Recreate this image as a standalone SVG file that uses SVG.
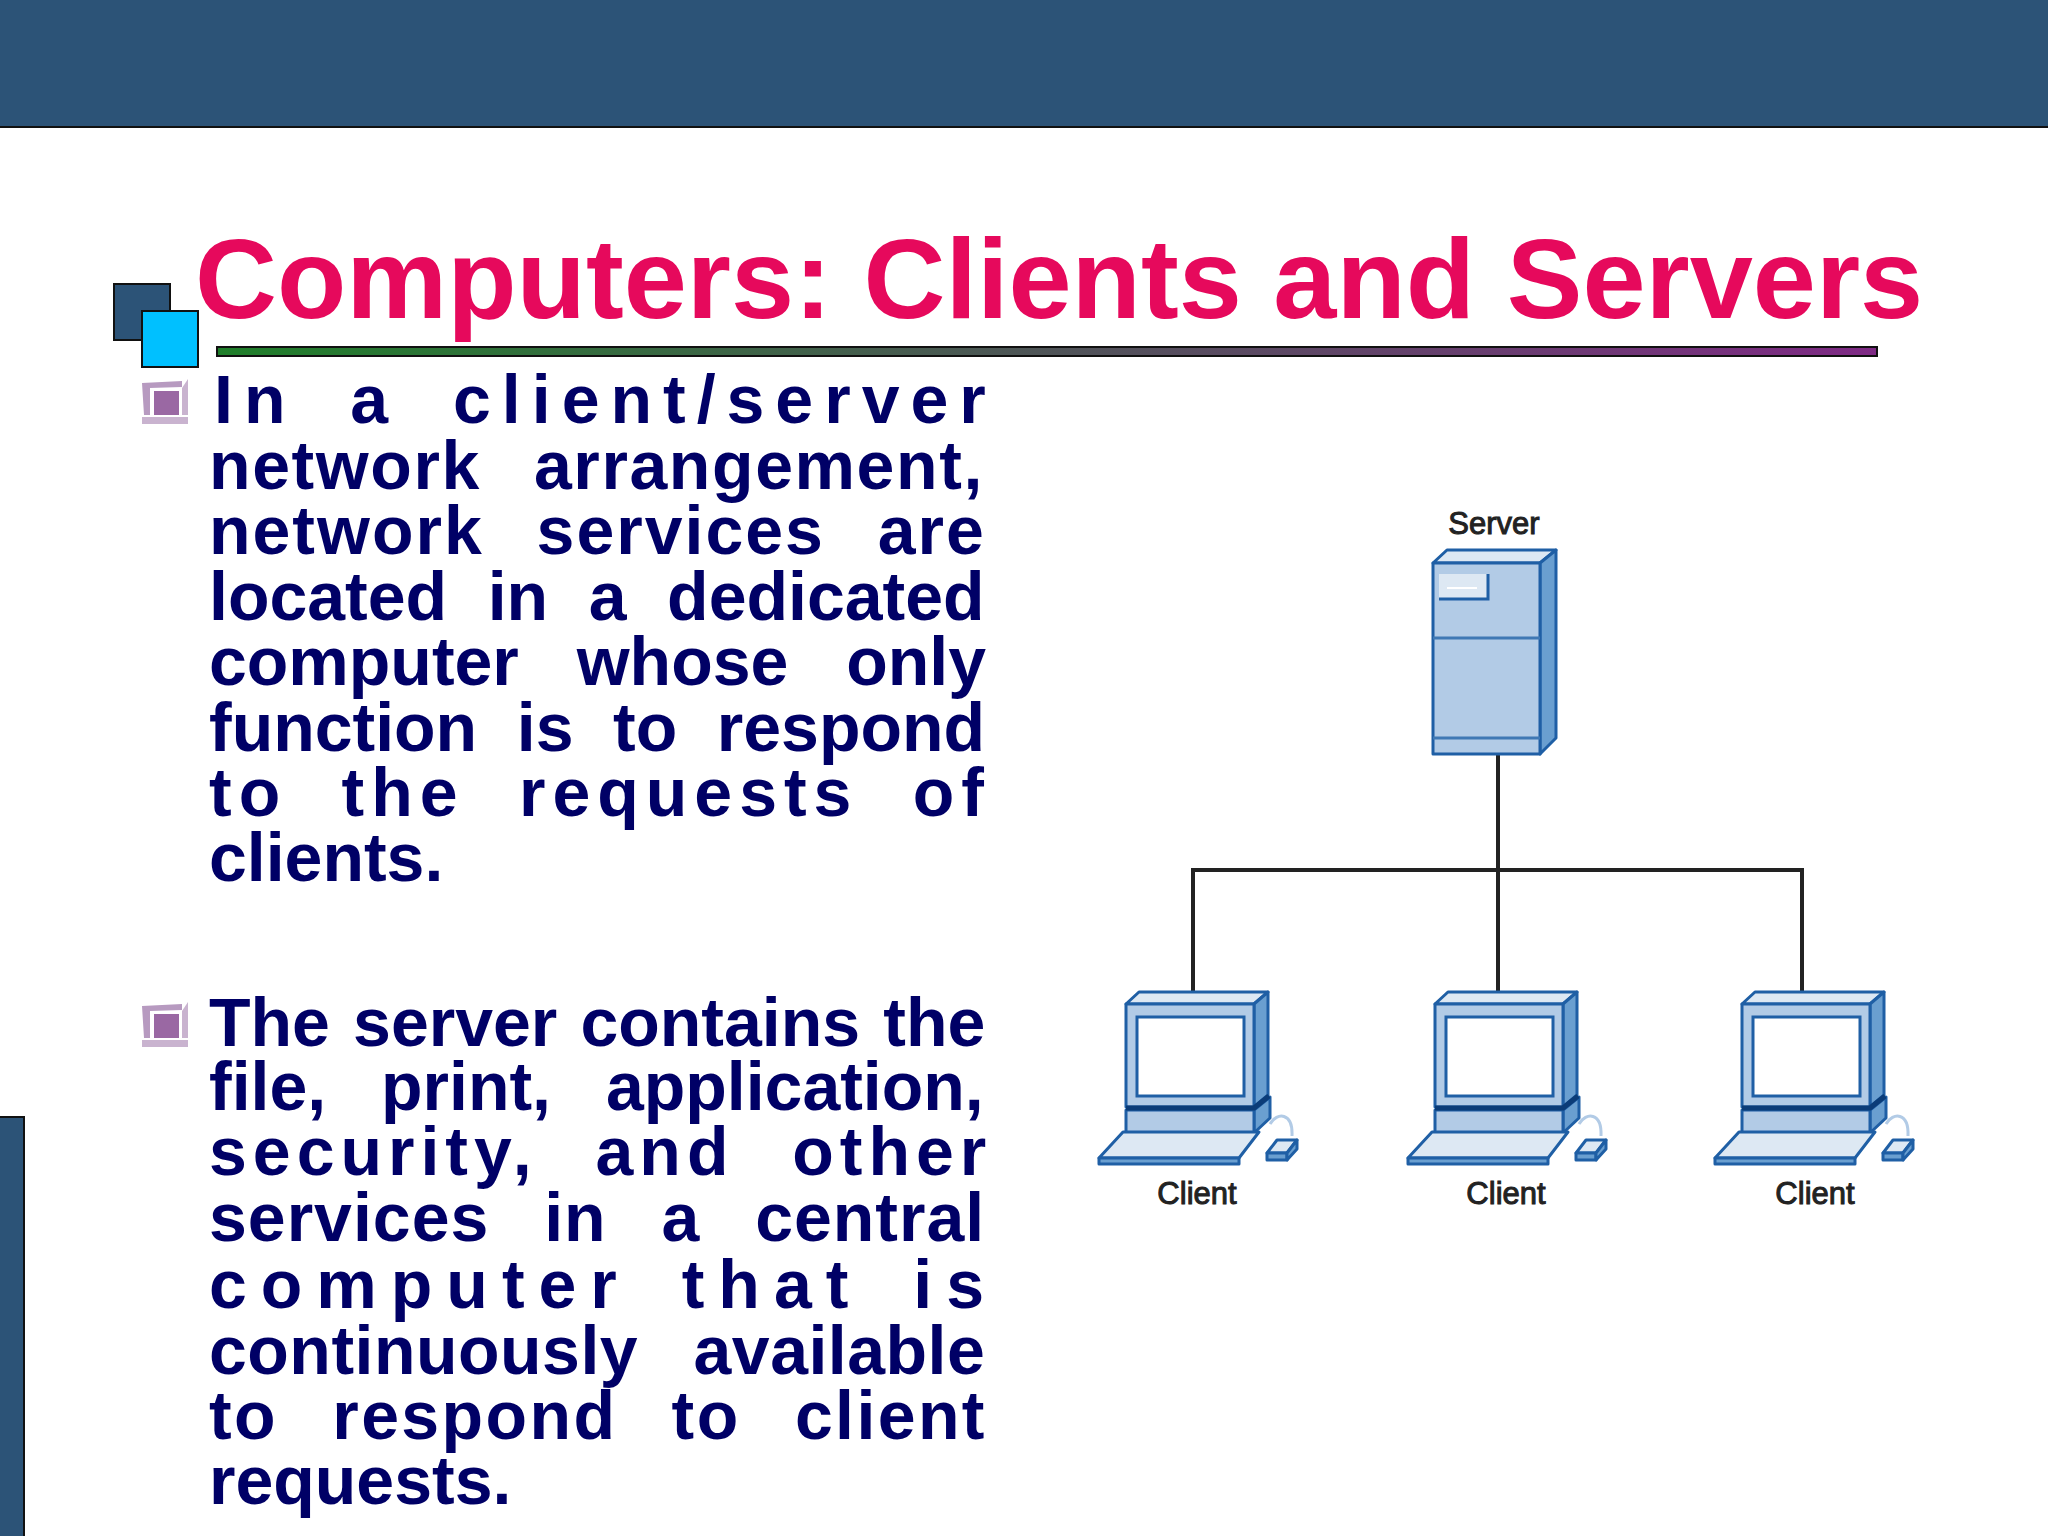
<svg xmlns="http://www.w3.org/2000/svg" width="2048" height="1536" viewBox="0 0 2048 1536">
<style>
.t{font-family:"Liberation Sans",Arial,sans-serif;font-weight:700;font-size:68px;fill:#000066}
.h{font-family:"Liberation Sans",Arial,sans-serif;font-weight:700;font-size:113.500px;fill:#e6095c}
.l{font-family:"Liberation Sans",Arial,sans-serif;font-size:31px;fill:#222;stroke:#222;stroke-width:1;text-anchor:middle}
.m{fill:#b2cbe6;stroke:#1f5fa5;stroke-width:3;stroke-linejoin:round}
.s{fill:#6a9fd0;stroke:#1f5fa5;stroke-width:3;stroke-linejoin:round}
.p{fill:#dde8f3;stroke:#1f5fa5;stroke-width:3;stroke-linejoin:round}
.c{fill:none;stroke:#222;stroke-width:4}
</style>
<defs>
<linearGradient id="g" x1="0" x2="1" y1="0" y2="0"><stop offset="0" stop-color="#1f7f2a"/><stop offset="1" stop-color="#7f2a85"/></linearGradient>
<g id="bullet">
<path d="M0 4L40 2V8L8 9V36L2 36Z" fill="#b79ac0"/>
<path d="M0 38H46V45H0Z" fill="#c9b3cf"/>
<path d="M40 9L46 0V36H40Z" fill="#c9b3cf"/>
<rect x="12" y="12" width="25" height="24" fill="#9a68a3"/>
</g>
<g id="pc">
<path class="p" d="M1125 1004L1138 992H1267L1253 1004Z"/>
<path class="s" d="M1253 1004L1267 992V1095L1253 1107Z"/>
<rect class="m" x="1125" y="1004" width="128" height="103"/>
<rect x="1136" y="1017" width="107" height="79" fill="#fff" stroke="#1f5fa5" stroke-width="3"/>
<path class="s" d="M1253 1110L1269 1097V1118L1253 1133Z"/>
<rect class="m" x="1125" y="1110" width="128" height="23"/>
<path d="M1125 1108H1253L1268 1096" fill="none" stroke="#0b3c78" stroke-width="5"/>
<path class="p" d="M1122 1132H1258L1238 1158H1098Z"/>
<path class="s" d="M1098 1158H1238V1164H1098Z"/>
<path d="M1269 1124C1276 1112 1292 1112 1291 1136" fill="none" stroke="#b2cbe6" stroke-width="3"/>
<path class="p" d="M1266 1153L1276 1140H1296L1286 1153Z"/>
<path class="s" d="M1266 1153H1286V1160H1266Z"/>
<path class="s" d="M1286 1153L1296 1140V1149L1286 1160Z"/>
</g>
</defs>
<rect width="2048" height="1536" fill="#fff"/>
<rect x="-2" y="-2" width="2052" height="129" fill="#2c5377" stroke="#111" stroke-width="2"/>
<rect x="-2" y="1117" width="26" height="421" fill="#2c5377" stroke="#111" stroke-width="2"/>
<g id="logo">
<rect x="114" y="284" width="56" height="56" fill="#2c5377" stroke="#111" stroke-width="2"/>
<rect x="142" y="311" width="56" height="56" fill="#00c0ff" stroke="#111" stroke-width="2"/>
</g>
<text class="h" x="195" y="318">Computers: Clients and Servers</text>
<rect x="217" y="347" width="1660" height="9" fill="url(#g)" stroke="#111" stroke-width="2"/>
<use href="#bullet" x="142" y="379"/>
<use href="#bullet" x="142" y="1002"/>
<g id="para1" class="t">
<text x="214" y="423" letter-spacing="11" word-spacing="24">In a client/server</text>
<text x="209" y="488.500" letter-spacing="1.600" word-spacing="32.500">network arrangement,</text>
<text x="209" y="554" letter-spacing="2" word-spacing="32">network services are</text>
<text x="209" y="619.500" word-spacing="21.700">located in a dedicated</text>
<text x="209" y="685" word-spacing="39">computer whose only</text>
<text x="209" y="750.500" word-spacing="20.700">function is to respond</text>
<text x="209" y="816" letter-spacing="7" word-spacing="28.500">to the requests of</text>
<text x="209" y="881">clients.</text>
</g>
<g id="para2" class="t">
<text x="209" y="1046" word-spacing="4.300">The server contains the</text>
<text x="209" y="1109.500" word-spacing="36">file, print, application,</text>
<text x="209" y="1175" letter-spacing="6" word-spacing="33">security, and other</text>
<text x="209" y="1240.500" letter-spacing="1" word-spacing="35">services in a central</text>
<text x="209" y="1307.500" letter-spacing="14" word-spacing="18">computer that is</text>
<text x="209" y="1373.500" letter-spacing=".5" word-spacing="36">continuously available</text>
<text x="209" y="1439" letter-spacing="2.400" word-spacing="33">to respond to client</text>
<text x="209" y="1504">requests.</text>
</g>
<g id="connectors">
<path class="c" d="M1498 754V992"/>
<path class="c" d="M1193 992V870H1802V992"/>
</g>
<g id="server">
<path class="p" d="M1433 563L1447 550H1556L1540 563Z"/>
<path class="s" d="M1540 563L1556 550V738L1540 754Z"/>
<rect class="m" x="1433" y="563" width="107" height="191"/>
<path d="M1433 638H1540M1433 738H1540" stroke="#3f78b4" stroke-width="3" fill="none"/>
<path d="M1439 574H1488V599H1439Z" fill="#dde8f3"/>
<path d="M1488 574V599H1439" fill="none" stroke="#1f5fa5" stroke-width="3"/>
<path d="M1447 588H1477" stroke="#fff" stroke-width="2"/>
<text class="l" x="1494" y="534">Server</text>
</g>
<g id="client1"><use href="#pc" x="1"/><text class="l" x="1197" y="1204">Client</text></g>
<g id="client2"><use href="#pc" x="310"/><text class="l" x="1506" y="1204">Client</text></g>
<g id="client3"><use href="#pc" x="617"/><text class="l" x="1815" y="1204">Client</text></g>
</svg>
